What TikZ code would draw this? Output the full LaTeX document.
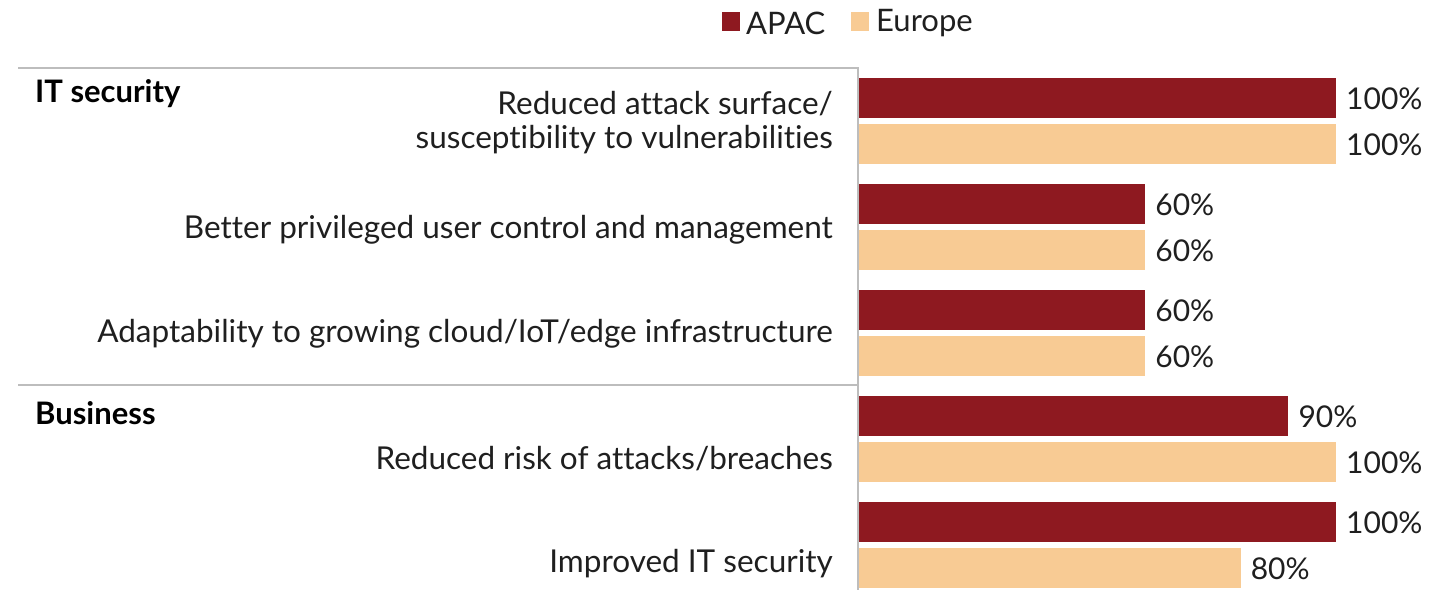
\documentclass[tikz,border=0pt]{standalone}
\usepackage{fontspec}
\setmainfont{Lato}[Ligatures=NoCommon]
\definecolor{apac}{HTML}{8E1920}
\definecolor{europe}{HTML}{F8CB94}
\definecolor{rule}{HTML}{BDBDBD}
\begin{document}
\begin{tikzpicture}[x=1pt,y=-1pt,
  lbl/.style={anchor=east,inner sep=0pt,font=\fontsize{31.5}{38}\selectfont,text=black!88},
  val/.style={anchor=west,inner sep=0pt,font=\fontsize{30}{36}\selectfont,text=black!88},
  head/.style={anchor=west,inner sep=0pt,font=\fontsize{31}{36}\selectfont\bfseries},
  legtext/.style={anchor=west,inner sep=0pt,font=\fontsize{31}{36}\selectfont,text=black!88},
  axisline/.style={draw=rule,line width=1.5pt}]
\useasboundingbox (0,0) rectangle (1438,590);
% legend
\fill[apac] (722,12) rectangle (740,31);
\node[legtext] (lapac) at (746,23) {APAC};
\fill[europe] (851,12) rectangle (869,31);
\node[legtext] (leur) at (876,23) {Europe};
% frame lines
\coordinate (tl) at (18,68);
\coordinate (tr) at (858,68);
\coordinate (ml) at (18,385);
\coordinate (mr) at (858,385);
\coordinate (bot) at (858,590);
\draw[axisline] (tl) -- (tr) -- (bot);
\draw[axisline] (ml) -- (mr);
% bars: 0% at x=859, 100% at x=1336
\def\xz{859}
\def\xs{4.77}
\foreach \i/\a/\e in {0/100/100,1/60/60,2/60/60,3/90/100,4/100/80}{
  \pgfmathsetmacro\top{78+106*\i}
  \pgfmathsetmacro\xa{\xz+\xs*\a}
  \pgfmathsetmacro\xe{\xz+\xs*\e}
  \fill[apac] (\xz,\top) rectangle (\xa,\top+40);
  \fill[europe] (\xz,\top+46) rectangle (\xe,\top+86);
  \node[val] at (\xa+10,\top+21) {\a\%};
  \node[val] at (\xe+10,\top+67) {\e\%};
}
% group headers
\node[head] (hit) at (35,94) {IT security};
\node[head] (hbus) at (35,413) {Business};
% category labels
\node[lbl] (c1a) at (833,104) {Reduced attack surface/};
\node[lbl] (c1b) at (833,140) {susceptibility to vulnerabilities};
\node[lbl] (c2) at (833,230) {Better privileged user control and management};
\node[lbl] (c3) at (833,334) {Adaptability to growing cloud/IoT/edge infrastructure};
\node[lbl] (c4) at (833,459) {Reduced risk of attacks/breaches};
\node[lbl] (c5) at (833,564) {Improved IT security};
\end{tikzpicture}
\end{document}
